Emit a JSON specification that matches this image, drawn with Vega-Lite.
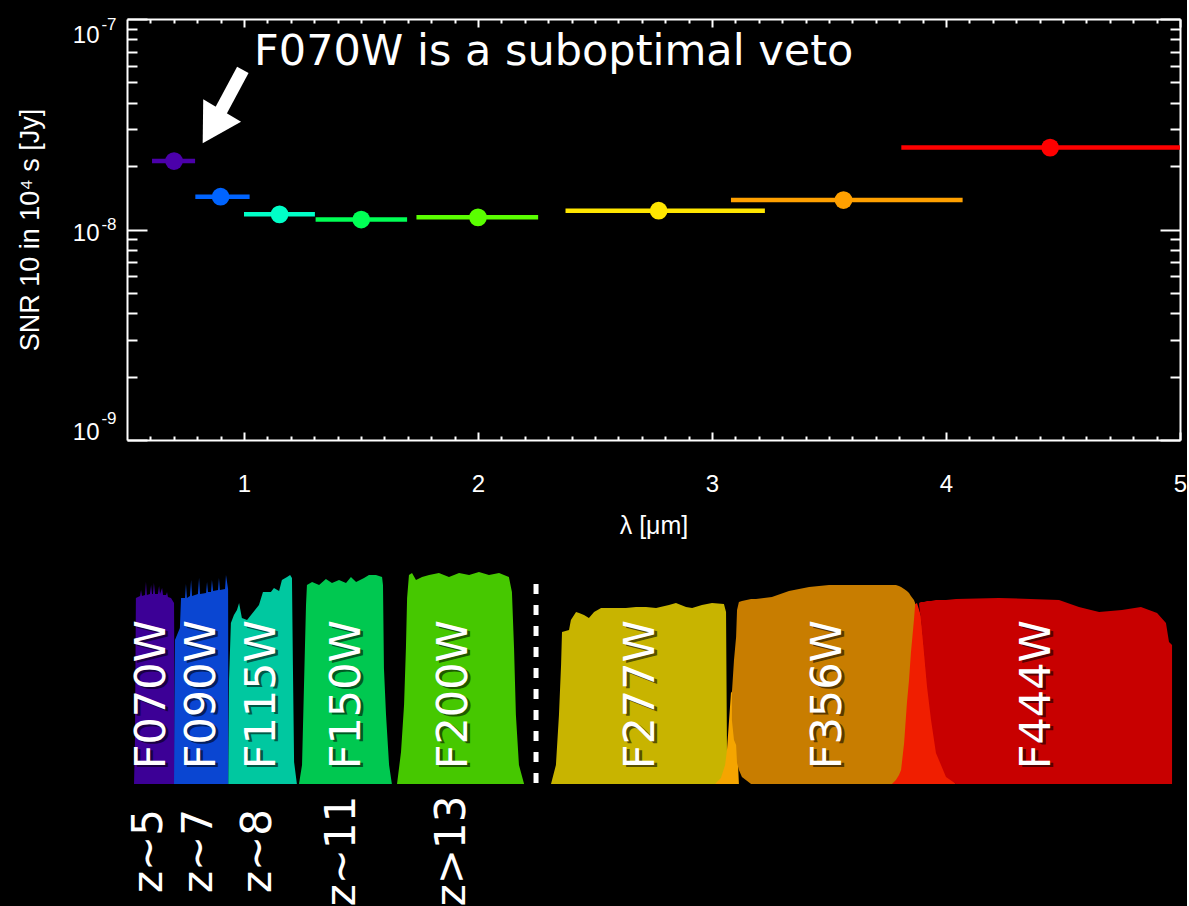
{
  "$schema": "https://vega.github.io/schema/vega-lite/v6.json",
  "background": "black",
  "padding": {"left": 16, "top": 15, "right": 0, "bottom": 0},
  "bounds": "flush",
  "spacing": 134,
  "config": {
    "view": {"stroke": null},
    "axis": {
      "domainColor": "white", "tickColor": "white", "labelColor": "white", "titleColor": "white",
      "domainWidth": 2, "tickWidth": 2, "grid": false,
      "labelFont": "Liberation Sans", "titleFont": "Liberation Sans",
      "labelFontWeight": "normal", "titleFontWeight": "normal"
    }
  },
  "resolve": {"scale": {"color": "independent", "x": "independent", "y": "independent"}},
  "datasets": {
    "snr": [
      {"filter": "F070W", "lam": 0.701, "lo": 0.607, "hi": 0.791, "snr": 2.115e-8},
      {"filter": "F090W", "lam": 0.900, "lo": 0.792, "hi": 1.024, "snr": 1.432e-8},
      {"filter": "F115W", "lam": 1.152, "lo": 1.000, "hi": 1.303, "snr": 1.18e-8},
      {"filter": "F150W", "lam": 1.501, "lo": 1.306, "hi": 1.697, "snr": 1.115e-8},
      {"filter": "F200W", "lam": 2.000, "lo": 1.737, "hi": 2.257, "snr": 1.142e-8},
      {"filter": "F277W", "lam": 2.772, "lo": 2.374, "hi": 3.226, "snr": 1.228e-8},
      {"filter": "F356W", "lam": 3.562, "lo": 3.081, "hi": 4.071, "snr": 1.38e-8},
      {"filter": "F444W", "lam": 4.445, "lo": 3.809, "hi": 5.0, "snr": 2.449e-8}
    ],
    "curves": [
      {"f": "F070W", "u": 0.530, "top": 0, "bot": 0},
      {"f": "F070W", "u": 0.534, "top": 0.21, "bot": 0},
      {"f": "F070W", "u": 0.538, "top": 0.886, "bot": 0},
      {"f": "F070W", "u": 0.556, "top": 0.895, "bot": 0},
      {"f": "F070W", "u": 0.560, "top": 0.924, "bot": 0},
      {"f": "F070W", "u": 0.564, "top": 0.895, "bot": 0},
      {"f": "F070W", "u": 0.577, "top": 0.900, "bot": 0},
      {"f": "F070W", "u": 0.581, "top": 0.962, "bot": 0},
      {"f": "F070W", "u": 0.585, "top": 0.900, "bot": 0},
      {"f": "F070W", "u": 0.598, "top": 0.905, "bot": 0},
      {"f": "F070W", "u": 0.603, "top": 0.948, "bot": 0},
      {"f": "F070W", "u": 0.607, "top": 0.905, "bot": 0},
      {"f": "F070W", "u": 0.611, "top": 0.905, "bot": 0},
      {"f": "F070W", "u": 0.615, "top": 0.957, "bot": 0},
      {"f": "F070W", "u": 0.620, "top": 0.905, "bot": 0},
      {"f": "F070W", "u": 0.632, "top": 0.905, "bot": 0},
      {"f": "F070W", "u": 0.637, "top": 0.943, "bot": 0},
      {"f": "F070W", "u": 0.641, "top": 0.905, "bot": 0},
      {"f": "F070W", "u": 0.650, "top": 0.933, "bot": 0},
      {"f": "F070W", "u": 0.654, "top": 0.900, "bot": 0},
      {"f": "F070W", "u": 0.667, "top": 0.900, "bot": 0},
      {"f": "F070W", "u": 0.671, "top": 0.914, "bot": 0},
      {"f": "F070W", "u": 0.675, "top": 0.890, "bot": 0},
      {"f": "F070W", "u": 0.688, "top": 0.886, "bot": 0},
      {"f": "F070W", "u": 0.701, "top": 0.862, "bot": 0},
      {"f": "F070W", "u": 0.705, "top": 0, "bot": 0},
      {"f": "F090W", "u": 0.701, "top": 0, "bot": 0},
      {"f": "F090W", "u": 0.705, "top": 0.686, "bot": 0},
      {"f": "F090W", "u": 0.726, "top": 0.743, "bot": 0},
      {"f": "F090W", "u": 0.731, "top": 0.886, "bot": 0},
      {"f": "F090W", "u": 0.748, "top": 0.886, "bot": 0},
      {"f": "F090W", "u": 0.752, "top": 0.952, "bot": 0},
      {"f": "F090W", "u": 0.756, "top": 0.886, "bot": 0},
      {"f": "F090W", "u": 0.769, "top": 0.895, "bot": 0},
      {"f": "F090W", "u": 0.774, "top": 0.971, "bot": 0},
      {"f": "F090W", "u": 0.778, "top": 0.895, "bot": 0},
      {"f": "F090W", "u": 0.803, "top": 0.905, "bot": 0},
      {"f": "F090W", "u": 0.808, "top": 0.981, "bot": 0},
      {"f": "F090W", "u": 0.812, "top": 0.905, "bot": 0},
      {"f": "F090W", "u": 0.838, "top": 0.910, "bot": 0},
      {"f": "F090W", "u": 0.842, "top": 0.962, "bot": 0},
      {"f": "F090W", "u": 0.846, "top": 0.914, "bot": 0},
      {"f": "F090W", "u": 0.859, "top": 0.914, "bot": 0},
      {"f": "F090W", "u": 0.863, "top": 0.971, "bot": 0},
      {"f": "F090W", "u": 0.868, "top": 0.919, "bot": 0},
      {"f": "F090W", "u": 0.889, "top": 0.924, "bot": 0},
      {"f": "F090W", "u": 0.893, "top": 0.981, "bot": 0},
      {"f": "F090W", "u": 0.897, "top": 0.924, "bot": 0},
      {"f": "F090W", "u": 0.919, "top": 0.929, "bot": 0},
      {"f": "F090W", "u": 0.923, "top": 0.995, "bot": 0},
      {"f": "F090W", "u": 0.932, "top": 0.929, "bot": 0},
      {"f": "F090W", "u": 0.934, "top": 0, "bot": 0},
      {"f": "F115W", "u": 0.933, "top": 0, "bot": 0},
      {"f": "F115W", "u": 0.936, "top": 0.495, "bot": 0},
      {"f": "F115W", "u": 0.944, "top": 0.767, "bot": 0},
      {"f": "F115W", "u": 0.957, "top": 0.805, "bot": 0},
      {"f": "F115W", "u": 0.970, "top": 0.829, "bot": 0},
      {"f": "F115W", "u": 0.979, "top": 0.862, "bot": 0},
      {"f": "F115W", "u": 0.991, "top": 0.790, "bot": 0},
      {"f": "F115W", "u": 1.013, "top": 0.781, "bot": 0},
      {"f": "F115W", "u": 1.030, "top": 0.805, "bot": 0},
      {"f": "F115W", "u": 1.064, "top": 0.852, "bot": 0},
      {"f": "F115W", "u": 1.081, "top": 0.914, "bot": 0},
      {"f": "F115W", "u": 1.115, "top": 0.914, "bot": 0},
      {"f": "F115W", "u": 1.128, "top": 0.933, "bot": 0},
      {"f": "F115W", "u": 1.150, "top": 0.919, "bot": 0},
      {"f": "F115W", "u": 1.162, "top": 0.971, "bot": 0},
      {"f": "F115W", "u": 1.184, "top": 0.986, "bot": 0},
      {"f": "F115W", "u": 1.197, "top": 0.995, "bot": 0},
      {"f": "F115W", "u": 1.205, "top": 0.981, "bot": 0},
      {"f": "F115W", "u": 1.209, "top": 0.567, "bot": 0},
      {"f": "F115W", "u": 1.214, "top": 0.105, "bot": 0},
      {"f": "F115W", "u": 1.226, "top": 0, "bot": 0},
      {"f": "F150W", "u": 1.235, "top": 0, "bot": 0},
      {"f": "F150W", "u": 1.248, "top": 0.090, "bot": 0},
      {"f": "F150W", "u": 1.261, "top": 0.676, "bot": 0},
      {"f": "F150W", "u": 1.265, "top": 0.852, "bot": 0},
      {"f": "F150W", "u": 1.269, "top": 0.948, "bot": 0},
      {"f": "F150W", "u": 1.291, "top": 0.962, "bot": 0},
      {"f": "F150W", "u": 1.321, "top": 0.948, "bot": 0},
      {"f": "F150W", "u": 1.350, "top": 0.976, "bot": 0},
      {"f": "F150W", "u": 1.376, "top": 0.957, "bot": 0},
      {"f": "F150W", "u": 1.406, "top": 0.971, "bot": 0},
      {"f": "F150W", "u": 1.436, "top": 0.957, "bot": 0},
      {"f": "F150W", "u": 1.457, "top": 0.986, "bot": 0},
      {"f": "F150W", "u": 1.479, "top": 0.962, "bot": 0},
      {"f": "F150W", "u": 1.513, "top": 0.981, "bot": 0},
      {"f": "F150W", "u": 1.534, "top": 0.995, "bot": 0},
      {"f": "F150W", "u": 1.564, "top": 0.995, "bot": 0},
      {"f": "F150W", "u": 1.590, "top": 0.986, "bot": 0},
      {"f": "F150W", "u": 1.594, "top": 0.948, "bot": 0},
      {"f": "F150W", "u": 1.598, "top": 0.552, "bot": 0},
      {"f": "F150W", "u": 1.607, "top": 0.329, "bot": 0},
      {"f": "F150W", "u": 1.620, "top": 0.090, "bot": 0},
      {"f": "F150W", "u": 1.632, "top": 0, "bot": 0},
      {"f": "F200W", "u": 1.654, "top": 0, "bot": 0},
      {"f": "F200W", "u": 1.671, "top": 0.152, "bot": 0},
      {"f": "F200W", "u": 1.684, "top": 0.376, "bot": 0},
      {"f": "F200W", "u": 1.692, "top": 0.648, "bot": 0},
      {"f": "F200W", "u": 1.697, "top": 0.886, "bot": 0},
      {"f": "F200W", "u": 1.705, "top": 0.995, "bot": 0},
      {"f": "F200W", "u": 1.718, "top": 1.005, "bot": 0},
      {"f": "F200W", "u": 1.735, "top": 0.971, "bot": 0},
      {"f": "F200W", "u": 1.761, "top": 0.986, "bot": 0},
      {"f": "F200W", "u": 1.791, "top": 0.995, "bot": 0},
      {"f": "F200W", "u": 1.833, "top": 1.005, "bot": 0},
      {"f": "F200W", "u": 1.876, "top": 0.986, "bot": 0},
      {"f": "F200W", "u": 1.919, "top": 1.005, "bot": 0},
      {"f": "F200W", "u": 1.962, "top": 0.995, "bot": 0},
      {"f": "F200W", "u": 2.004, "top": 1.010, "bot": 0},
      {"f": "F200W", "u": 2.047, "top": 0.995, "bot": 0},
      {"f": "F200W", "u": 2.090, "top": 1.005, "bot": 0},
      {"f": "F200W", "u": 2.132, "top": 0.986, "bot": 0},
      {"f": "F200W", "u": 2.145, "top": 0.914, "bot": 0},
      {"f": "F200W", "u": 2.154, "top": 0.648, "bot": 0},
      {"f": "F200W", "u": 2.162, "top": 0.329, "bot": 0},
      {"f": "F200W", "u": 2.175, "top": 0.090, "bot": 0},
      {"f": "F200W", "u": 2.197, "top": 0, "bot": 0},
      {"f": "F277W", "u": 2.312, "top": 0, "bot": 0},
      {"f": "F277W", "u": 2.333, "top": 0.090, "bot": 0},
      {"f": "F277W", "u": 2.346, "top": 0.329, "bot": 0},
      {"f": "F277W", "u": 2.355, "top": 0.567, "bot": 0},
      {"f": "F277W", "u": 2.359, "top": 0.724, "bot": 0},
      {"f": "F277W", "u": 2.389, "top": 0.733, "bot": 0},
      {"f": "F277W", "u": 2.397, "top": 0.781, "bot": 0},
      {"f": "F277W", "u": 2.419, "top": 0.819, "bot": 0},
      {"f": "F277W", "u": 2.432, "top": 0.814, "bot": 0},
      {"f": "F277W", "u": 2.453, "top": 0.805, "bot": 0},
      {"f": "F277W", "u": 2.474, "top": 0.790, "bot": 0},
      {"f": "F277W", "u": 2.496, "top": 0.819, "bot": 0},
      {"f": "F277W", "u": 2.526, "top": 0.838, "bot": 0},
      {"f": "F277W", "u": 2.573, "top": 0.838, "bot": 0},
      {"f": "F277W", "u": 2.632, "top": 0.838, "bot": 0},
      {"f": "F277W", "u": 2.675, "top": 0.843, "bot": 0},
      {"f": "F277W", "u": 2.718, "top": 0.843, "bot": 0},
      {"f": "F277W", "u": 2.761, "top": 0.838, "bot": 0},
      {"f": "F277W", "u": 2.816, "top": 0.852, "bot": 0},
      {"f": "F277W", "u": 2.846, "top": 0.862, "bot": 0},
      {"f": "F277W", "u": 2.889, "top": 0.843, "bot": 0},
      {"f": "F277W", "u": 2.915, "top": 0.838, "bot": 0},
      {"f": "F277W", "u": 2.957, "top": 0.852, "bot": 0},
      {"f": "F277W", "u": 3.000, "top": 0.862, "bot": 0},
      {"f": "F277W", "u": 3.051, "top": 0.857, "bot": 0},
      {"f": "F277W", "u": 3.060, "top": 0.819, "bot": 0},
      {"f": "F277W", "u": 3.064, "top": 0.162, "bot": 0},
      {"f": "F277W", "u": 3.068, "top": 0, "bot": 0},
      {"f": "F444W edge", "u": 3.735, "top": 0, "bot": 0},
      {"f": "F444W edge", "u": 3.769, "top": 0.1, "bot": 0},
      {"f": "F444W edge", "u": 3.799, "top": 0.4, "bot": 0},
      {"f": "F444W edge", "u": 3.833, "top": 0.7, "bot": 0},
      {"f": "F444W edge", "u": 3.859, "top": 0.85, "bot": 0},
      {"f": "F444W edge", "u": 3.876, "top": 0.862, "bot": 0},
      {"f": "F444W edge", "u": 3.893, "top": 0.80, "bot": 0},
      {"f": "F444W edge", "u": 3.906, "top": 0.66, "bot": 0},
      {"f": "F444W edge", "u": 3.919, "top": 0.50, "bot": 0},
      {"f": "F444W edge", "u": 3.936, "top": 0.34, "bot": 0},
      {"f": "F444W edge", "u": 3.957, "top": 0.18, "bot": 0},
      {"f": "F444W edge", "u": 4.000, "top": 0.05, "bot": 0},
      {"f": "F444W edge", "u": 4.043, "top": 0, "bot": 0},
      {"f": "F356W edge", "u": 3.013, "top": 0, "bot": 0},
      {"f": "F356W edge", "u": 3.038, "top": 0.029, "bot": 0},
      {"f": "F356W edge", "u": 3.056, "top": 0.090, "bot": 0},
      {"f": "F356W edge", "u": 3.064, "top": 0.162, "bot": 0},
      {"f": "F356W edge", "u": 3.073, "top": 0.305, "bot": 0},
      {"f": "F356W edge", "u": 3.081, "top": 0.433, "bot": 0},
      {"f": "F356W edge", "u": 3.090, "top": 0.448, "bot": 0},
      {"f": "F356W edge", "u": 3.103, "top": 0.305, "bot": 0},
      {"f": "F356W edge", "u": 3.115, "top": 0, "bot": 0},
      {"f": "F356W", "u": 3.085, "top": 0.433, "bot": 0.305},
      {"f": "F356W", "u": 3.094, "top": 0.590, "bot": 0.210},
      {"f": "F356W", "u": 3.103, "top": 0.700, "bot": 0.186},
      {"f": "F356W", "u": 3.107, "top": 0.829, "bot": 0.100},
      {"f": "F356W", "u": 3.115, "top": 0.867, "bot": 0.067},
      {"f": "F356W", "u": 3.128, "top": 0.871, "bot": 0.033},
      {"f": "F356W", "u": 3.167, "top": 0.881, "bot": 0},
      {"f": "F356W", "u": 3.188, "top": 0.881, "bot": 0},
      {"f": "F356W", "u": 3.256, "top": 0.890, "bot": 0},
      {"f": "F356W", "u": 3.329, "top": 0.919, "bot": 0},
      {"f": "F356W", "u": 3.372, "top": 0.929, "bot": 0},
      {"f": "F356W", "u": 3.415, "top": 0.938, "bot": 0},
      {"f": "F356W", "u": 3.500, "top": 0.948, "bot": 0},
      {"f": "F356W", "u": 3.628, "top": 0.948, "bot": 0},
      {"f": "F356W", "u": 3.756, "top": 0.948, "bot": 0},
      {"f": "F356W", "u": 3.769, "top": 0.948, "bot": 0},
      {"f": "F356W", "u": 3.786, "top": 0.948, "bot": 0.019},
      {"f": "F356W", "u": 3.799, "top": 0.943, "bot": 0.043},
      {"f": "F356W", "u": 3.808, "top": 0.938, "bot": 0.067},
      {"f": "F356W", "u": 3.821, "top": 0.929, "bot": 0.195},
      {"f": "F356W", "u": 3.833, "top": 0.919, "bot": 0.386},
      {"f": "F356W", "u": 3.842, "top": 0.910, "bot": 0.495},
      {"f": "F356W", "u": 3.850, "top": 0.895, "bot": 0.624},
      {"f": "F356W", "u": 3.863, "top": 0.876, "bot": 0.781},
      {"f": "F356W", "u": 3.868, "top": 0.862, "bot": 0.852},
      {"f": "F444W", "u": 3.885, "top": 0.862, "bot": 0.852},
      {"f": "F444W", "u": 3.893, "top": 0.867, "bot": 0.781},
      {"f": "F444W", "u": 3.906, "top": 0.867, "bot": 0.624},
      {"f": "F444W", "u": 3.919, "top": 0.871, "bot": 0.462},
      {"f": "F444W", "u": 3.936, "top": 0.871, "bot": 0.305},
      {"f": "F444W", "u": 3.957, "top": 0.876, "bot": 0.148},
      {"f": "F444W", "u": 4.000, "top": 0.876, "bot": 0.033},
      {"f": "F444W", "u": 4.043, "top": 0.881, "bot": 0},
      {"f": "F444W", "u": 4.226, "top": 0.886, "bot": 0},
      {"f": "F444W", "u": 4.483, "top": 0.876, "bot": 0},
      {"f": "F444W", "u": 4.568, "top": 0.843, "bot": 0},
      {"f": "F444W", "u": 4.654, "top": 0.819, "bot": 0},
      {"f": "F444W", "u": 4.752, "top": 0.829, "bot": 0},
      {"f": "F444W", "u": 4.833, "top": 0.843, "bot": 0},
      {"f": "F444W", "u": 4.902, "top": 0.814, "bot": 0},
      {"f": "F444W", "u": 4.940, "top": 0.767, "bot": 0},
      {"f": "F444W", "u": 4.953, "top": 0.676, "bot": 0},
      {"f": "F444W", "u": 4.966, "top": 0.662, "bot": 0}
    ],
    "divider": [{"u": 2.248, "t0": 0.952, "t1": 0}],
    "filterLabels": [
      {"f": "F070W", "u": 0.607},
      {"f": "F090W", "u": 0.821},
      {"f": "F115W", "u": 1.077},
      {"f": "F150W", "u": 1.440},
      {"f": "F200W", "u": 1.897},
      {"f": "F277W", "u": 2.697},
      {"f": "F356W", "u": 3.496},
      {"f": "F444W", "u": 4.389}
    ],
    "zLabels": [
      {"z": "z~5", "u": 0.594},
      {"z": "z~7", "u": 0.808},
      {"z": "z~8", "u": 1.060},
      {"z": "z~11", "u": 1.419},
      {"z": "z>13", "u": 1.889}
    ]
  },
  "vconcat": [
    {
      "width": 1053,
      "height": 421,
      "data": {"name": "snr"},
      "resolve": {"axis": {"x": "independent", "y": "independent"}},
      "layer": [
        {
          "mark": {"type": "rule", "strokeWidth": 4.5},
          "encoding": {
            "x": {"field": "lo", "type": "quantitative", "scale": {"domain": [0.5, 5], "nice": false, "zero": false},
              "axis": {"orient": "bottom", "values": [1, 2, 3, 4, 5], "format": "d", "tickSize": -8, "labelPadding": 40, "labelFontSize": 24, "labelFlush": false, "title": "λ [μm]", "titleFontSize": 25, "titlePadding": 17}},
            "x2": {"field": "hi"},
            "y": {"field": "snr", "type": "quantitative", "scale": {"type": "log", "domain": [1e-9, 1e-7], "nice": false},
              "axis": {"orient": "left", "values": [1e-9, 1e-8, 1e-7], "labelExpr": "'10'", "tickSize": -20, "labelPadding": 48, "labelFontSize": 24, "labelFlush": false,
                "labelOffset": {"expr": "datum.value > 5e-8 ? 16 : (datum.value < 2e-9 ? -8 : 4)"},
                "title": "SNR 10 in 10⁴ s [Jy]", "titleFontSize": 27, "titlePadding": 28}},
            "color": {"field": "filter", "type": "nominal", "legend": null,
              "scale": {"domain": ["F070W", "F090W", "F115W", "F150W", "F200W", "F277W", "F356W", "F444W"],
                "range": ["#4b00aa", "#0064ff", "#00ffc8", "#00ff55", "#5aff00", "#ffe600", "#ffa000", "#ff0000"]}}
          }
        },
        {
          "mark": {"type": "circle", "size": 314, "opacity": 1},
          "encoding": {
            "x": {"field": "lam", "type": "quantitative", "scale": {"domain": [0.5, 5], "nice": false, "zero": false},
              "axis": {"orient": "bottom", "values": [0.6,0.7,0.8,0.9,1.1,1.2,1.3,1.4,1.5,1.6,1.7,1.8,1.9,2.1,2.2,2.3,2.4,2.5,2.6,2.7,2.8,2.9,3.1,3.2,3.3,3.4,3.5,3.6,3.7,3.8,3.9,4.1,4.2,4.3,4.4,4.5,4.6,4.7,4.8,4.9], "tickSize": -4, "labels": false, "domain": false, "title": null}},
            "y": {"field": "snr", "type": "quantitative", "scale": {"type": "log", "domain": [1e-9, 1e-7], "nice": false},
              "axis": {"orient": "left", "values": [2e-9,3e-9,4e-9,5e-9,6e-9,7e-9,8e-9,9e-9,2e-8,3e-8,4e-8,5e-8,6e-8,7e-8,8e-8,9e-8], "tickSize": -10, "labels": false, "domain": false, "title": null}},
            "color": {"field": "filter", "type": "nominal", "legend": null,
              "scale": {"domain": ["F070W", "F090W", "F115W", "F150W", "F200W", "F277W", "F356W", "F444W"],
                "range": ["#4b00aa", "#0064ff", "#00ffc8", "#00ff55", "#5aff00", "#ffe600", "#ffa000", "#ff0000"]}}
          }
        },
        {
          "data": {"values": [{"lam": 1.043, "snr": 6.045e-8, "note": "F070W is a suboptimal veto"}]},
          "mark": {"type": "text", "align": "left", "baseline": "alphabetic", "font": "DejaVu Sans", "fontSize": 43, "color": "white"},
          "encoding": {
            "x": {"field": "lam", "type": "quantitative", "scale": {"domain": [0.5, 5], "nice": false, "zero": false},
              "axis": {"orient": "top", "values": [1, 2, 3, 4, 5], "tickSize": -8, "labels": false, "domain": true, "title": null}},
            "y": {"field": "snr", "type": "quantitative", "scale": {"type": "log", "domain": [1e-9, 1e-7], "nice": false},
              "axis": {"orient": "right", "values": [1e-9, 1e-8, 1e-7], "tickSize": -20, "labels": false, "domain": true, "title": null}},
            "text": {"field": "note"}
          }
        },
        {
          "data": {"values": [{"lam": 0.995, "snr": 5.73e-8, "lam2": 0.885, "snr2": 3.39e-8}]},
          "mark": {"type": "rule", "strokeWidth": 13, "color": "white", "strokeCap": "butt"},
          "encoding": {
            "x": {"field": "lam", "type": "quantitative", "scale": {"domain": [0.5, 5], "nice": false, "zero": false},
              "axis": {"orient": "top", "values": [0.6,0.7,0.8,0.9,1.1,1.2,1.3,1.4,1.5,1.6,1.7,1.8,1.9,2.1,2.2,2.3,2.4,2.5,2.6,2.7,2.8,2.9,3.1,3.2,3.3,3.4,3.5,3.6,3.7,3.8,3.9,4.1,4.2,4.3,4.4,4.5,4.6,4.7,4.8,4.9], "tickSize": -4, "labels": false, "domain": false, "title": null}},
            "y": {"field": "snr", "type": "quantitative", "scale": {"type": "log", "domain": [1e-9, 1e-7], "nice": false},
              "axis": {"orient": "right", "values": [2e-9,3e-9,4e-9,5e-9,6e-9,7e-9,8e-9,9e-9,2e-8,3e-8,4e-8,5e-8,6e-8,7e-8,8e-8,9e-8], "tickSize": -10, "labels": false, "domain": false, "title": null}},
            "x2": {"field": "lam2"},
            "y2": {"field": "snr2"}
          }
        },
        {
          "data": {"values": [{"lam": 0.865, "snr": 3.07e-8}]},
          "mark": {"type": "point", "shape": "triangle-up", "filled": true, "color": "white", "size": 1936, "angle": 210.7, "opacity": 1},
          "encoding": {
            "x": {"field": "lam", "type": "quantitative", "scale": {"domain": [0.5, 5], "nice": false, "zero": false}, "axis": null},
            "y": {"field": "snr", "type": "quantitative", "scale": {"type": "log", "domain": [1e-9, 1e-7], "nice": false},
              "axis": {"orient": "left", "values": [1e-9, 1e-8, 1e-7], "ticks": false, "domain": false, "labelPadding": 11, "labelFontSize": 17, "labelFlush": false, "title": null,
                "labelExpr": "'' + round(log(datum.value) / LN10)",
                "labelOffset": {"expr": "datum.value > 5e-8 ? 5 : (datum.value < 2e-9 ? -22 : -5)"}}}
          }
        }
      ]
    },
    {
      "width": 1053,
      "height": 332,
      "layer": [
        {
          "data": {"name": "curves"},
          "transform": [{"filter": {"field": "f", "oneOf": ["F070W", "F090W", "F115W", "F150W", "F200W", "F277W", "F444W edge"]}}],
          "mark": {"type": "area", "interpolate": "linear", "opacity": 1},
          "encoding": {
            "x": {"field": "u", "type": "quantitative", "scale": {"domain": [0.5, 5], "nice": false, "zero": false}, "axis": null},
            "y": {"field": "top", "type": "quantitative", "stack": null, "scale": {"domain": [-0.581, 1.0], "nice": false, "zero": false}, "axis": null},
            "y2": {"field": "bot"},
            "color": {"field": "f", "type": "nominal", "legend": null,
              "scale": {"domain": ["F070W", "F090W", "F115W", "F150W", "F200W", "F277W", "F356W", "F444W", "F356W edge", "F444W edge"],
                "range": ["#3c0096", "#0a46d2", "#00c8a0", "#00c850", "#46c800", "#c8b400", "#c87d00", "#c80000", "#f5a500", "#f01e00"]}}
          }
        },
        {
          "data": {"name": "curves"},
          "transform": [{"filter": {"field": "f", "equal": "F356W edge"}}],
          "mark": {"type": "area", "interpolate": "linear", "opacity": 1},
          "encoding": {
            "x": {"field": "u", "type": "quantitative", "scale": {"domain": [0.5, 5], "nice": false, "zero": false}, "axis": null},
            "y": {"field": "top", "type": "quantitative", "stack": null, "scale": {"domain": [-0.581, 1.0], "nice": false, "zero": false}, "axis": null},
            "y2": {"field": "bot"},
            "color": {"field": "f", "type": "nominal", "legend": null,
              "scale": {"domain": ["F070W", "F090W", "F115W", "F150W", "F200W", "F277W", "F356W", "F444W", "F356W edge", "F444W edge"],
                "range": ["#3c0096", "#0a46d2", "#00c8a0", "#00c850", "#46c800", "#c8b400", "#c87d00", "#c80000", "#f5a500", "#f01e00"]}}
          }
        },
        {
          "data": {"name": "curves"},
          "transform": [{"filter": {"field": "f", "oneOf": ["F356W", "F444W"]}}],
          "mark": {"type": "area", "interpolate": "linear", "opacity": 1},
          "encoding": {
            "x": {"field": "u", "type": "quantitative", "scale": {"domain": [0.5, 5], "nice": false, "zero": false}, "axis": null},
            "y": {"field": "top", "type": "quantitative", "stack": null, "scale": {"domain": [-0.581, 1.0], "nice": false, "zero": false}, "axis": null},
            "y2": {"field": "bot"},
            "color": {"field": "f", "type": "nominal", "legend": null,
              "scale": {"domain": ["F070W", "F090W", "F115W", "F150W", "F200W", "F277W", "F356W", "F444W", "F356W edge", "F444W edge"],
                "range": ["#3c0096", "#0a46d2", "#00c8a0", "#00c850", "#46c800", "#c8b400", "#c87d00", "#c80000", "#f5a500", "#f01e00"]}}
          }
        },
        {
          "data": {"name": "divider"},
          "mark": {"type": "rule", "strokeDash": [10, 11], "strokeWidth": 5, "color": "white"},
          "encoding": {
            "x": {"field": "u", "type": "quantitative", "scale": {"domain": [0.5, 5], "nice": false, "zero": false}, "axis": null},
            "y": {"field": "t0", "type": "quantitative", "scale": {"domain": [-0.581, 1.0], "nice": false, "zero": false}, "axis": null},
            "y2": {"field": "t1"}
          }
        },
        {
          "data": {"name": "filterLabels"},
          "mark": {"type": "text", "angle": 270, "align": "left", "baseline": "middle", "font": "DejaVu Sans", "fontSize": 43, "color": "black", "opacity": 0.55, "dx": -2, "dy": 3},
          "encoding": {
            "x": {"field": "u", "type": "quantitative", "scale": {"domain": [0.5, 5], "nice": false, "zero": false}, "axis": null},
            "y": {"datum": 0.07, "type": "quantitative", "scale": {"domain": [-0.581, 1.0], "nice": false, "zero": false}, "axis": null},
            "text": {"field": "f"}
          }
        },
        {
          "data": {"name": "filterLabels"},
          "mark": {"type": "text", "angle": 270, "align": "left", "baseline": "middle", "font": "DejaVu Sans", "fontSize": 43, "color": "white"},
          "encoding": {
            "x": {"field": "u", "type": "quantitative", "scale": {"domain": [0.5, 5], "nice": false, "zero": false}, "axis": null},
            "y": {"datum": 0.07, "type": "quantitative", "scale": {"domain": [-0.581, 1.0], "nice": false, "zero": false}, "axis": null},
            "text": {"field": "f"}
          }
        },
        {
          "data": {"name": "zLabels"},
          "mark": {"type": "text", "angle": 270, "align": "center", "baseline": "middle", "font": "DejaVu Sans", "fontSize": 42, "color": "white"},
          "encoding": {
            "x": {"field": "u", "type": "quantitative", "scale": {"domain": [0.5, 5], "nice": false, "zero": false}, "axis": null},
            "y": {"datum": -0.319, "type": "quantitative", "scale": {"domain": [-0.581, 1.0], "nice": false, "zero": false}, "axis": null},
            "text": {"field": "z"}
          }
        }
      ]
    }
  ]
}
